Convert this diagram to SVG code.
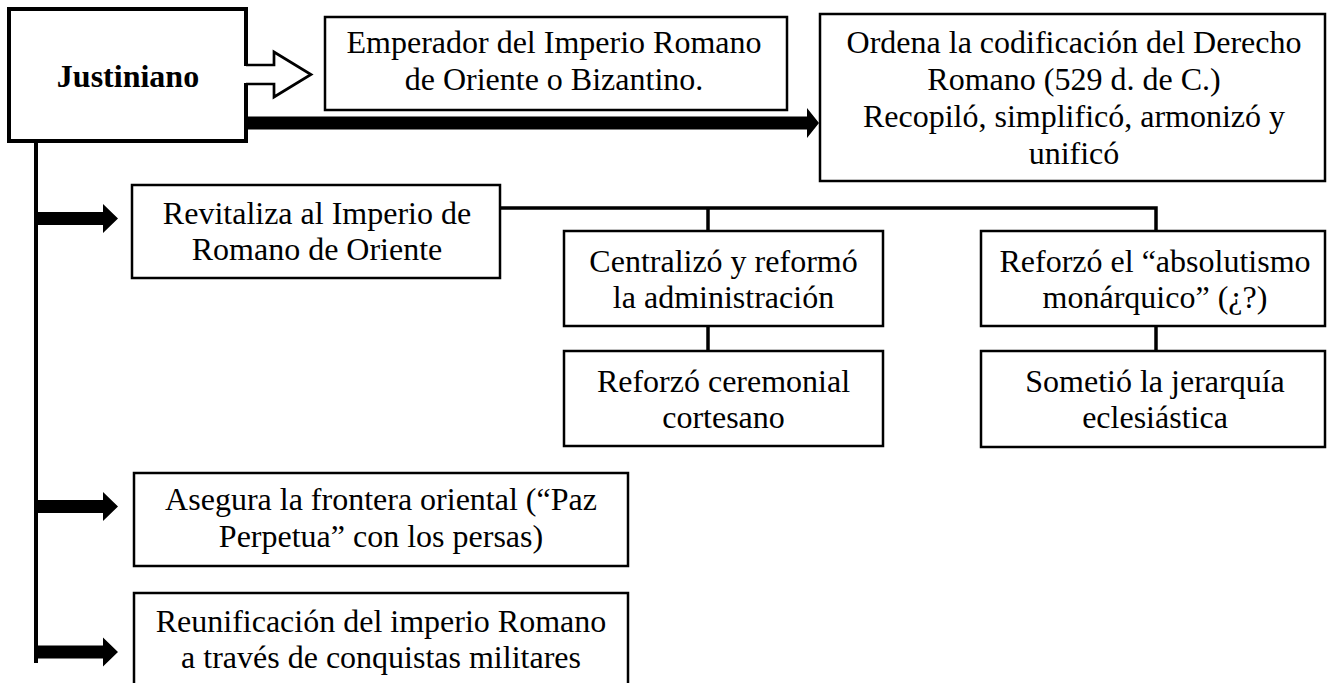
<svg xmlns="http://www.w3.org/2000/svg" width="1327" height="683" viewBox="0 0 1327 683">
<style>
.box{fill:#fff;stroke:#000;stroke-width:2.5}
.main{fill:#fff;stroke:#000;stroke-width:4}
.t{font-family:"Liberation Serif","Times New Roman",serif;font-size:32px;fill:#000;text-anchor:middle}
.b{font-weight:bold}
.ln{fill:none;stroke:#000;stroke-width:3.5}
</style>
<defs>
<path id="arr" d="M0,-6.5 L67,-6.5 L67,-14.5 L82,0 L67,14.5 L67,6.5 L0,6.5 Z" fill="#000"/>
</defs>
<rect width="1327" height="683" fill="#fff"/>
<g id="connectors">
<line class="ln" x1="36" y1="141" x2="36" y2="663" style="stroke-width:4"/>
<use href="#arr" transform="translate(36,218.5)"/>
<use href="#arr" transform="translate(36,506.5)"/>
<use href="#arr" transform="translate(36,652)"/>
<path d="M247,116.5 L807,116.5 L807,108 L819,123 L807,138 L807,129.5 L247,129.5 Z" fill="#000"/>
<polyline class="ln" points="501,208 1156,208 1156,231"/>
<line class="ln" x1="708" y1="208" x2="708" y2="231"/>
<line class="ln" x1="708" y1="326" x2="708" y2="351"/>
<line class="ln" x1="1156" y1="326" x2="1156" y2="351"/>
</g>
<g id="n-justiniano">
<rect class="main" x="9" y="9" width="237" height="132"/>
<text class="t b" x="128" y="87">Justiniano</text>
</g>
<g id="hollow-arrow">
<rect x="243" y="66" width="6" height="17" fill="#fff"/>
<path d="M246,65 L274,65 L274,52 L311,74.5 L274,97 L274,84 L246,84" fill="#fff" stroke="#000" stroke-width="2.7"/>
</g>
<g id="n-emperador">
<rect class="box" x="325" y="17" width="462" height="93"/>
<text class="t" x="554" y="53">Emperador del Imperio Romano</text>
<text class="t" x="554" y="90">de Oriente o Bizantino.</text>
</g>
<g id="n-ordena">
<rect class="box" x="820" y="14" width="505" height="167"/>
<text class="t" x="1074" y="53">Ordena la codificación del Derecho</text>
<text class="t" x="1074" y="90">Romano (529 d. de C.)</text>
<text class="t" x="1074" y="127">Recopiló, simplificó, armonizó y</text>
<text class="t" x="1074" y="164">unificó</text>
</g>
<g id="n-revitaliza">
<rect class="box" x="132" y="185" width="368" height="93"/>
<text class="t" x="317" y="224">Revitaliza al Imperio de</text>
<text class="t" x="317" y="260">Romano de Oriente</text>
</g>
<g id="n-centralizo">
<rect class="box" x="564" y="231" width="319" height="95"/>
<text class="t" x="723.5" y="272">Centralizó y reformó</text>
<text class="t" x="723.5" y="308">la administración</text>
</g>
<g id="n-ceremonial">
<rect class="box" x="564" y="351" width="319" height="95"/>
<text class="t" x="723.5" y="392">Reforzó ceremonial</text>
<text class="t" x="723.5" y="428">cortesano</text>
</g>
<g id="n-absolutismo">
<rect class="box" x="981" y="231" width="344" height="95"/>
<text class="t" x="1155" y="272">Reforzó el “absolutismo</text>
<text class="t" x="1155" y="308">monárquico” (¿?)</text>
</g>
<g id="n-sometio">
<rect class="box" x="981" y="351" width="344" height="96"/>
<text class="t" x="1155" y="392">Sometió la jerarquía</text>
<text class="t" x="1155" y="428">eclesiástica</text>
</g>
<g id="n-asegura">
<rect class="box" x="134" y="473" width="494" height="93"/>
<text class="t" x="381" y="510">Asegura la frontera oriental (“Paz</text>
<text class="t" x="381" y="547">Perpetua” con los persas)</text>
</g>
<g id="n-reunificacion">
<rect class="box" x="134" y="593" width="494" height="100"/>
<text class="t" x="381" y="632">Reunificación del imperio Romano</text>
<text class="t" x="381" y="668">a través de conquistas militares</text>
</g>
</svg>
